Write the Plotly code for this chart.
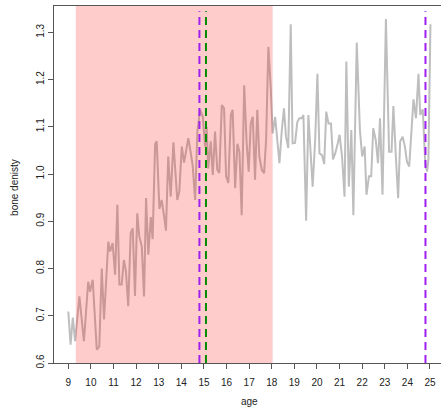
import plotly.graph_objects as go

ages = [9.00, 9.10, 9.20, 9.30, 9.49, 9.69, 9.88, 9.96, 10.08, 10.26,
        10.37, 10.48, 10.58, 10.77, 10.85, 10.96, 11.07, 11.17, 11.26, 11.36,
        11.46, 11.55, 11.65, 11.76, 11.85, 11.95, 12.05, 12.14, 12.25, 12.35,
        12.44, 12.54, 12.65, 12.73, 12.84, 12.91, 13.03, 13.13, 13.24, 13.32,
        13.42, 13.53, 13.65, 13.73, 13.82, 13.91, 14.02, 14.12, 14.31, 14.42,
        14.50, 14.61, 14.71, 14.83, 14.95, 15.05, 15.12, 15.19, 15.30, 15.39,
        15.49, 15.59, 15.68, 15.79, 15.89, 15.98, 16.08, 16.19, 16.27, 16.38,
        16.48, 16.57, 16.67, 16.78, 16.89, 16.98, 17.07, 17.16, 17.26, 17.36,
        17.45, 17.56, 17.66, 17.75, 17.85, 17.96, 18.04, 18.15, 18.25, 18.34,
        18.44, 18.54, 18.63, 18.73, 18.84, 18.92, 19.03, 19.13, 19.22, 19.33,
        19.40, 19.52, 19.62, 19.73, 19.81, 19.92, 20.02, 20.11, 20.22, 20.32,
        20.41, 20.51, 20.62, 20.71, 20.81, 20.92, 21.00, 21.11, 21.22, 21.30,
        21.41, 21.52, 21.61, 21.76, 21.90, 22.00, 22.11, 22.19, 22.30, 22.40,
        22.49, 22.60, 22.70, 22.79, 22.90, 23.05, 23.19, 23.30, 23.38, 23.49,
        23.59, 23.68, 23.79, 23.89, 23.98, 24.08, 24.19, 24.27, 24.38, 24.49,
        24.57, 24.68, 24.79, 24.87, 24.93, 25.02]

density = [0.709, 0.639, 0.696, 0.646, 0.741, 0.646, 0.772, 0.751, 0.776, 0.628,
           0.635, 0.800, 0.692, 0.857, 0.836, 0.854, 0.787, 0.935, 0.766, 0.766,
           0.818, 0.794, 0.720, 0.875, 0.885, 0.742, 0.917, 0.868, 0.847, 0.741,
           0.949, 0.829, 0.909, 0.862, 1.064, 1.069, 0.926, 0.945, 0.910, 0.880,
           1.037, 0.952, 1.067, 1.009, 0.945, 0.963, 1.058, 1.024, 1.076, 1.044,
           1.019, 0.945, 1.090, 1.136, 1.121, 1.058, 1.100, 1.012, 1.069, 0.998,
           1.090, 1.009, 1.002, 1.146, 1.139, 0.995, 0.981, 1.125, 1.136, 0.970,
           1.064, 1.047, 0.913, 1.188, 1.065, 1.005, 1.107, 1.121, 0.988, 1.136,
           1.037, 1.009, 1.002, 1.072, 1.269, 1.178, 1.086, 1.121, 1.072, 1.023,
           1.090, 1.139, 1.079, 1.055, 1.317, 1.065, 1.066, 1.110, 1.118, 1.118,
           1.125, 0.901, 1.125, 1.037, 0.973, 1.072, 1.212, 1.044, 1.040, 1.021,
           1.132, 1.107, 1.107, 1.031, 1.044, 1.065, 1.083, 1.037, 0.952, 1.238,
           0.973, 1.093, 0.913, 1.278, 1.093, 1.037, 1.058, 0.956, 0.995, 0.995,
           1.097, 1.072, 1.023, 1.118, 0.956, 1.328, 1.047, 1.047, 1.144, 1.037,
           0.949, 1.069, 1.079, 1.058, 1.026, 1.016, 1.100, 1.158, 1.118, 1.212,
           1.125, 1.137, 1.023, 1.005, 1.030, 1.317]

shade_start, shade_end = 9.33, 18.04
purple_lines = [14.80, 24.80]
green_lines = [15.09]

x_ticks = list(range(9, 26))
y_ticks = [0.6, 0.7, 0.8, 0.9, 1.0, 1.1, 1.2, 1.3]
y_tick_text = ["0.6", "0.7", "0.8", "0.9", "1.0", "1.1", "1.2", "1.3"]

font_family = "Liberation Sans, Arial, sans-serif"
axis_color = "#555555"

fig = go.Figure()
fig.add_trace(go.Scatter(x=ages, y=density, mode="lines",
                         line=dict(color="#bebebe", width=2),
                         hoverinfo="skip", showlegend=False))

fig.add_shape(type="rect", xref="x", yref="paper",
              x0=shade_start, x1=shade_end, y0=0, y1=1,
              fillcolor="rgba(255,0,0,0.2)", line_width=0, layer="above")

for xv in purple_lines:
    fig.add_shape(type="line", xref="x", yref="paper", x0=xv, x1=xv, y0=0, y1=0.985,
                  line=dict(color="#A020F0", width=2, dash="8px,5px"), layer="above")
for xv in green_lines:
    fig.add_shape(type="line", xref="x", yref="paper", x0=xv, x1=xv, y0=0, y1=0.985,
                  line=dict(color="#008B00", width=2, dash="8px,5px"), layer="above")

fig.add_annotation(text="bone denisty", xref="paper", yref="paper",
                   x=-0.101, y=0.493, xanchor="center", yanchor="middle",
                   textangle=-90, showarrow=False,
                   font=dict(family=font_family, size=10, color="#222222"))
fig.add_annotation(text="age", xref="paper", yref="paper",
                   x=0.504, y=-0.109, xanchor="center", yanchor="middle",
                   showarrow=False,
                   font=dict(family=font_family, size=10, color="#222222"))

fig.update_layout(
    width=441, height=410,
    margin=dict(l=54, r=0, t=6, b=47, autoexpand=False),
    paper_bgcolor="white", plot_bgcolor="white",
    font=dict(family=font_family, size=10, color="#222222"),
    xaxis=dict(range=[8.367, 25.487], tickmode="array", tickvals=x_ticks,
               ticks="outside", ticklen=5, tickcolor=axis_color,
               ticklabelstandoff=5,
               showline=True, linecolor=axis_color, linewidth=1, mirror=True,
               showgrid=False, zeroline=False, fixedrange=True),
    yaxis=dict(range=[0.6, 1.3556], tickmode="array", tickvals=y_ticks,
               ticktext=y_tick_text, tickangle=-90,
               ticks="outside", ticklen=5, tickcolor=axis_color,
               showline=True, linecolor=axis_color, linewidth=1,
               showgrid=False, zeroline=False, fixedrange=True),
)

fig.write_html("out.html", config={"displayModeBar": False},
               post_script="document.body.style.margin='0';document.body.style.overflow='hidden';")
